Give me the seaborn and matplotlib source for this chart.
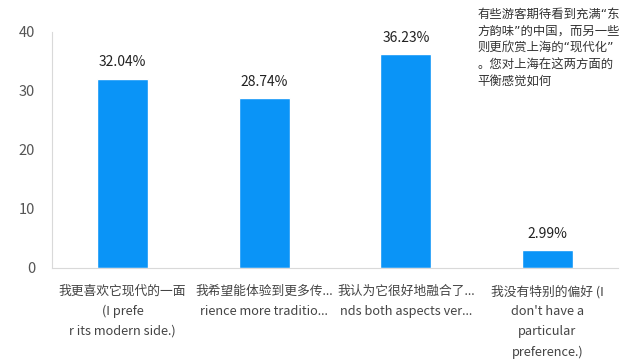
import seaborn as sns
import pandas as pd
import matplotlib.pyplot as plt

categories = [
    "我更喜欢它现代的一面\n(I prefe\nr its modern side.)",
    "我希望能体验到更多传...\nrience more traditio...",
    "我认为它很好地融合了...\nnds both aspects ver...",
    "我没有特别的偏好 (I\ndon't have a\nparticular\npreference.)",
]
values = [32.04, 28.74, 36.23, 2.99]
title = "有些游客期待看到充满“东\n方韵味”的中国，而另一些\n则更欣赏上海的“现代化”\n。您对上海在这两方面的\n平衡感觉如何"

df = pd.DataFrame({"cat": categories, "val": values})

sns.set_style("white")
plt.rcParams["font.family"] = ["Noto Sans CJK SC", "DejaVu Sans"]

fig = plt.figure(figsize=(6.4, 3.62), dpi=100)
ax = fig.add_axes([0.081, 0.26, 0.885, 0.652])
sns.barplot(data=df, x="cat", y="val", color="#0A94F7", width=0.36, saturation=1, ax=ax)

for i, v in enumerate(values):
    ax.text(i, v + 1.6, f"{v:.2f}%", ha="center", va="bottom", fontsize=10, color="#222222")

ax.set_xlim(-0.5, 3.5)
ax.set_ylim(0, 40)
ax.set_yticks([0, 10, 20, 30, 40])
ax.set_xlabel("")
ax.set_ylabel("")
ax.tick_params(axis="y", labelsize=10.5, colors="#555555", length=0, pad=12)
ax.tick_params(axis="x", labelsize=9.2, colors="#444444", length=0, pad=12)
for lbl in ax.get_xticklabels():
    lbl.set_linespacing(1.7)
for s in ["top", "right"]:
    ax.spines[s].set_visible(False)
for s in ["left", "bottom"]:
    ax.spines[s].set_color("#D9D9D9")
    ax.spines[s].set_linewidth(0.8)

fig.text(0.746, 0.978, title, ha="left", va="top", fontsize=8.9, color="#333333",
         linespacing=1.4, family=["DejaVu Sans", "Noto Sans CJK SC"])

plt.savefig("out.png", dpi=100)
